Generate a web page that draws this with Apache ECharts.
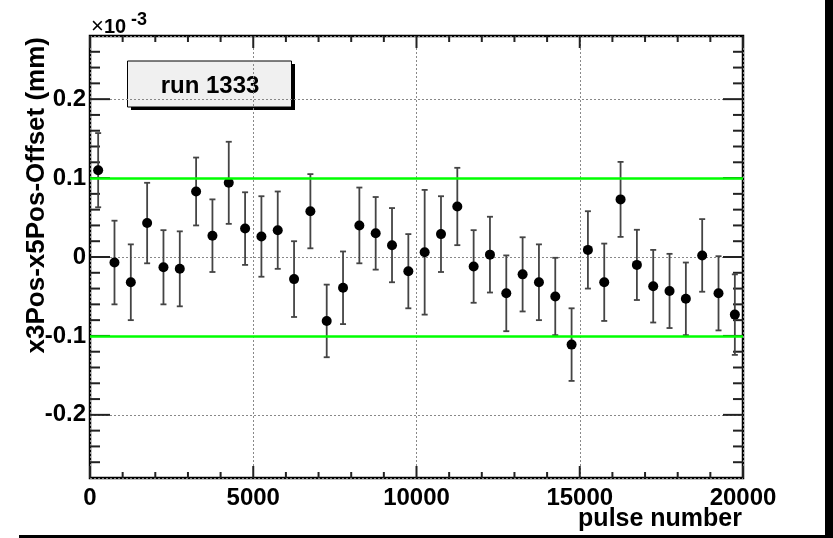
<!DOCTYPE html>
<html>
<head>
<meta charset="utf-8">
<script src="https://cdn.jsdelivr.net/npm/echarts@6/dist/echarts.min.js"></script>
<style>
html,body{margin:0;padding:0;background:#fff;}
#chart{width:833px;height:538px;}
</style>
</head>
<body>
<div id="chart"></div>
<script>
// bin centres along the pulse axis
const pulseBins = [250, 750, 1250, 1750, 2250, 2750, 3250, 3750, 4250, 4750,
	5250, 5750, 6250, 6750, 7250, 7750, 8250, 8750, 9250, 9750,
	10250, 10750, 11250, 11750, 12250, 12750, 13250, 13750, 14250, 14750,
	15250, 15750, 16250, 16750, 17250, 17750, 18250, 18750, 19250, 19750];
// x3Pos-x5Pos-Offset in units of 1e-3 mm
const offsets = [0.110, -0.007, -0.032, 0.043, -0.013, -0.015, 0.083, 0.027, 0.094, 0.036,
	0.026, 0.034, -0.028, 0.058, -0.081, -0.039, 0.040, 0.030, 0.015, -0.018,
	0.006, 0.029, 0.064, -0.012, 0.003, -0.046, -0.022, -0.032, -0.050, -0.111,
	0.009, -0.032, 0.073, -0.010, -0.037, -0.043, -0.053, 0.002, -0.046, -0.073];
// error bar half widths
const errors = [0.047, 0.053, 0.048, 0.051, 0.047, 0.0475, 0.043, 0.046, 0.052, 0.046,
	0.051, 0.049, 0.048, 0.047, 0.046, 0.046, 0.048, 0.046, 0.047, 0.047,
	0.079, 0.048, 0.049, 0.046, 0.048, 0.048, 0.047, 0.048, 0.049, 0.046,
	0.049, 0.049, 0.0475, 0.0445, 0.046, 0.047, 0.046, 0.046, 0.047, 0.051];
// green limit lines
const limitLines = [0.1, -0.1];
const xRange = [0, 20000];
const yRange = [-0.28, 0.28];
// tick positions (ROOT style, drawn on all four sides)
const xMajorTicks = [0, 5000, 10000, 15000, 20000];
const xMinorTicks = [1000, 2000, 3000, 4000, 6000, 7000, 8000, 9000,
	11000, 12000, 13000, 14000, 16000, 17000, 18000, 19000];
const yMajorTicks = [-0.2, -0.1, 0, 0.1, 0.2];
const yMinorTicks = [-0.26, -0.24, -0.22, -0.18, -0.16, -0.14, -0.12, -0.08, -0.06, -0.04, -0.02,
	0.02, 0.04, 0.06, 0.08, 0.12, 0.14, 0.16, 0.18, 0.22, 0.24, 0.26];
const runLabel = 'run 1333';

const FONT = '"Liberation Sans", Arial, Helvetica, sans-serif';

const points = pulseBins.map((x, i) => [x, offsets[i]]);
const bars = pulseBins.map((x, i) => [x, offsets[i] - errors[i], offsets[i] + errors[i]]);
//刻度数据：[值, 长度]
const xTickData = xMajorTicks.map(v => [v, 12]).concat(xMinorTicks.map(v => [v, 6]));
const yTickData = yMajorTicks.map(v => [v, 20]).concat(yMinorTicks.map(v => [v, 10]));

const tickStyle = {stroke: '#222', lineWidth: 2};

//x方向刻度，上下两边
function renderXTick(params, api) {
	const cs = params.coordSys;
	const px = api.coord([api.value(0), yRange[0]])[0];
	const len = api.value(1);
	const top = cs.y, bottom = cs.y + cs.height;
	return {
		type: 'group',
		children: [
			{type: 'line', shape: {x1: px, y1: bottom, x2: px, y2: bottom - len}, style: tickStyle},
			{type: 'line', shape: {x1: px, y1: top, x2: px, y2: top + len}, style: tickStyle}
		]
	};
}
//y方向刻度，左右两边
function renderYTick(params, api) {
	const cs = params.coordSys;
	const py = api.coord([xRange[0], api.value(0)])[1];
	const len = api.value(1);
	const left = cs.x, right = cs.x + cs.width;
	return {
		type: 'group',
		children: [
			{type: 'line', shape: {x1: left, y1: py, x2: left + len, y2: py}, style: tickStyle},
			{type: 'line', shape: {x1: right, y1: py, x2: right - len, y2: py}, style: tickStyle}
		]
	};
}

const chart = echarts.init(document.getElementById('chart'));
chart.setOption({
	animation: false,
	grid: {left: 90, top: 36, right: 90, bottom: 60, show: true,
		borderColor: '#000', borderWidth: 2.5, backgroundColor: 'transparent'},
	xAxis: {
		type: 'value', min: xRange[0], max: xRange[1], interval: 5000,
		axisLine: {show: false, onZero: false},
		axisTick: {show: false},
		axisLabel: {margin: 8, color: '#000', fontSize: 24, fontWeight: 'bold',
			fontFamily: FONT, formatter: v => String(v)},
		splitLine: {show: true, lineStyle: {color: '#888', type: [2, 2], width: 1}}
	},
	yAxis: {
		type: 'value', min: yRange[0], max: yRange[1], splitNumber: 5,
		axisLine: {show: false, onZero: false},
		axisTick: {show: false},
		axisLabel: {margin: 4, color: '#000', fontSize: 24, fontWeight: 'bold',
			fontFamily: FONT, showMinLabel: false, showMaxLabel: false,
			formatter: v => String(+v.toFixed(1))},
		splitLine: {show: true, lineStyle: {color: '#888', type: [2, 2], width: 1}}
	},
	series: [
		{type: 'custom', data: xTickData, renderItem: renderXTick, silent: true},
		{type: 'custom', data: yTickData, renderItem: renderYTick, silent: true},
		{
			type: 'custom',
			data: bars,
			renderItem: function (params, api) {
				const x = api.value(0);
				const lo = api.coord([x, api.value(1)]);
				const hi = api.coord([x, api.value(2)]);
				const c = 3;
				const st = {stroke: '#444', lineWidth: 1.8};
				return {
					type: 'group',
					children: [
						{type: 'line', shape: {x1: lo[0], y1: lo[1], x2: hi[0], y2: hi[1]}, style: st},
						{type: 'line', shape: {x1: lo[0] - c, y1: lo[1], x2: lo[0] + c, y2: lo[1]}, style: st},
						{type: 'line', shape: {x1: hi[0] - c, y1: hi[1], x2: hi[0] + c, y2: hi[1]}, style: st}
					]
				};
			}
		},
		{
			type: 'scatter',
			data: points,
			symbol: 'circle',
			symbolSize: 10,
			itemStyle: {color: '#000', opacity: 1},
			markLine: {
				silent: true,
				symbol: 'none',
				label: {show: false},
				lineStyle: {color: '#00ff00', width: 2.5, type: 'solid'},
				data: limitLines.map(v => ({yAxis: v}))
			}
		}
	],
	graphic: [
		{type: 'rect', shape: {x: 825, y: 0, width: 8, height: 538}, style: {fill: '#000'}},
		{type: 'rect', shape: {x: 19, y: 535, width: 814, height: 3}, style: {fill: '#000'}},
		{type: 'rect', shape: {x: 131, y: 64, width: 164, height: 46}, style: {fill: '#000'}},
		{type: 'rect', shape: {x: 127.5, y: 61, width: 164, height: 46},
			style: {fill: '#f0f0f0', stroke: '#000', lineWidth: 1}},
		{type: 'text', x: 210, y: 86,
			style: {text: runLabel, align: 'center', verticalAlign: 'middle', fill: '#000',
				font: 'bold 24px ' + FONT}},
		{type: 'text', x: 37, y: 37, rotation: Math.PI / 2,
			style: {text: 'x3Pos-x5Pos-Offset (mm)', align: 'right', verticalAlign: 'middle', fill: '#000',
				font: 'bold 26px ' + FONT}},
		{type: 'text', x: 742, y: 519,
			style: {text: 'pulse number', align: 'right', verticalAlign: 'middle', fill: '#000',
				font: 'bold 25px ' + FONT}},
		{type: 'text', x: 91, y: 27,
			style: {text: '\u00d7', align: 'left', verticalAlign: 'middle', fill: '#000',
				font: '22px ' + FONT}},
		{type: 'text', x: 104, y: 27,
			style: {text: '10', align: 'left', verticalAlign: 'middle', fill: '#000',
				font: 'bold 20px ' + FONT}},
		{type: 'text', x: 131, y: 20,
			style: {text: '-3', align: 'left', verticalAlign: 'middle', fill: '#000',
				font: 'bold 18px ' + FONT}}
	]
});
</script>
</body>
</html>
